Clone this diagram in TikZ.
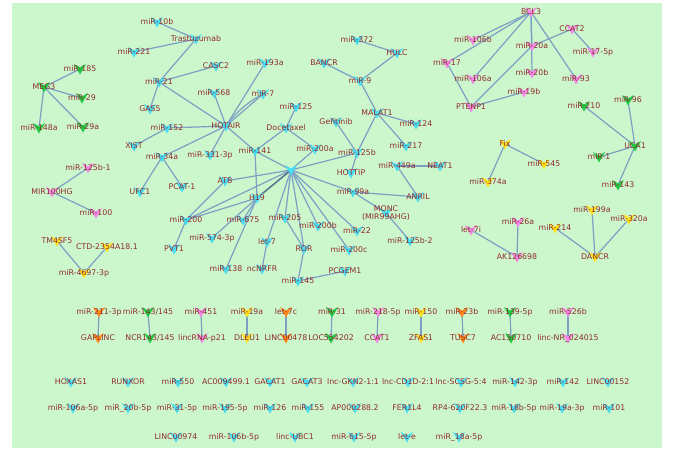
\documentclass[tikz,border=0pt]{standalone}
\usepackage{fontspec}
\setmainfont{DejaVu Sans}
\usepackage{xcolor}
\definecolor{canvas}{HTML}{CCF7CC}
\definecolor{edgeblue}{HTML}{7C9FC4}
\definecolor{labelred}{HTML}{8E2B2B}
\definecolor{mcyan}{HTML}{45DDF2}
\definecolor{mgreen}{HTML}{1FCB45}
\definecolor{mpink}{HTML}{F289E6}
\definecolor{myellow}{HTML}{FFE31A}
\definecolor{morange}{HTML}{FF8A1C}
\usepackage{tikz}
\usetikzlibrary{backgrounds}

\begin{document}
\begin{tikzpicture}[x=1pt, y=-1pt,
  gene/.style={text=labelred, font=\fontsize{7.8}{8.6}\selectfont, inner sep=0pt, align=center},
  link/.style={draw=edgeblue, line width=1.2pt}
]
  \useasboundingbox (0,0) rectangle (676,455);
  % genes: name/x/y/colour/label
  \foreach \n/\x/\y/\c/\t in {
    meg3/44/87/mgreen/MEG3, m185/80/69/mgreen/miR-185, m29/82/98/mgreen/miR-29,
    m148a/39/128/mgreen/miR-148a, m29a/83/127/mgreen/miR-29a,
    m10b/157/22/mcyan/miR-10b, m221/134/52/mcyan/miR-221, traz/196/39/mcyan/Trastuzumab,
    m21/159/82/mcyan/miR-21, casc2/216/66/mcyan/CASC2, m193a/265/63/mcyan/miR-193a,
    gas5/150/109/mcyan/GAS5, m568/214/93/mcyan/miR-568, m7/263/94/mcyan/miR-7,
    m152/167/128/mcyan/miR-152, hotair/226/126/mcyan/HOTAIR, xist/134/146/mcyan/XIST,
    m125/296/107/mcyan/miR-125, doce/286/128/mcyan/Docetaxel, m331/210/155/mcyan/miR-331-3p,
    m141/255/151/mcyan/miR-141, m200a/315/149/mcyan/miR-200a, m34a/162/157/mcyan/miR-34a,
    ufc1/140/192/mcyan/UFC1, pcat1/182/187/mcyan/PCAT-1, atb/225/181/mcyan/ATB,
    hub/291/170/mcyan/{}, h19/257/198/mcyan/H19, m200/186/220/mcyan/miR-200,
    m675/243/220/mcyan/miR-675, m205/285/218/mcyan/miR-205, m200b/318/226/mcyan/miR-200b,
    m574/212/238/mcyan/miR-574-3p, pvt1/174/249/mcyan/PVT1, let7/267/242/mcyan/let-7,
    ror/304/249/mcyan/ROR, m138/226/269/mcyan/miR-138, ncnrfr/262/269/mcyan/ncNRFR,
    m145/298/281/mcyan/miR-145, pcgem1/345/271/mcyan/PCGEM1, m22/357/231/mcyan/miR-22,
    m200c/349/250/mcyan/miR-200c, m99a/353/192/mcyan/miR-99a, anril/418/197/mcyan/ANRIL,
    monc/386/213/mcyan/{MONC\\(MIR99AHG)}, m125b2/410/241/mcyan/miR-125b-2,
    m449a/397/166/mcyan/miR-449a, neat1/440/166/mcyan/NEAT1, hottip/351/173/mcyan/HOTTIP,
    m125b/357/153/mcyan/miR-125b, gef/336/122/mcyan/Gefitinib, malat1/377/113/mcyan/MALAT1,
    m124/416/124/mcyan/miR-124, m217/406/146/mcyan/miR-217, m9/360/81/mcyan/miR-9,
    hulc/397/53/mcyan/HULC, m372/357/40/mcyan/miR-372, bancr/324/63/mcyan/BANCR,
    bcl3/531/12/mpink/BCL3, ccat2/572/29/mpink/CCAT2, m20a/532/46/mpink/miR-20a,
    m175p/593/52/mpink/miR-17-5p, m20b/532/73/mpink/miR-20b, m93/576/79/mpink/miR-93,
    m19b/524/92/mpink/miR-19b, m106b/473/40/mpink/miR-106b, m17/447/63/mpink/miR-17,
    m106a/473/79/mpink/miR-106a, ptenp1/471/107/mpink/PTENP1,
    m210/584/106/mgreen/miR-210, m96/628/100/mgreen/miR-96, uca1/635/146/mgreen/UCA1,
    m1/599/157/mgreen/miR-1, m143/618/185/mgreen/miR-143,
    fix/505/144/myellow/Fix, m545/544/164/myellow/miR-545, m374a/488/182/myellow/miR-374a,
    m199a/592/210/myellow/miR-199a, m320a/629/219/myellow/miR-320a, m214/555/228/myellow/miR-214,
    dancr/595/257/myellow/DANCR, let7i/471/230/mpink/let-7i, m26a/518/222/mpink/miR-26a,
    ak/517/257/mpink/AK126698,
    m125b1/88/168/mpink/miR-125b-1, mir100hg/52/192/mpink/MIR100HG, m100/96/213/mpink/miR-100,
    tm4sf5/57/241/myellow/TM4SF5, ctd/107/247/myellow/CTD-2354A18.1, m4697/84/273/myellow/miR-4697-3p,
    m211/99/312/morange/miR-211-3p, m143145/148/312/mgreen/{miR-143/145}, m451/201/312/mpink/miR-451,
    m19a/247/312/myellow/miR-19a, let7c/286/312/morange/let-7c, m31/332/312/mgreen/miR-31,
    m218/378/312/mpink/miR-218-5p, m150/421/312/myellow/miR-150, m23b/462/312/morange/miR-23b,
    m139/510/312/mgreen/miR-139-5p, m526b/568/312/mpink/miR-526b,
    gaplinc/98/338/morange/GAPLINC, ncr/150/338/mgreen/{NCR143/145}, lincp21/202/338/mpink/lincRNA-p21,
    dleu1/247/338/myellow/DLEU1, linc478/286/338/morange/LINC00478, loc/331/338/mgreen/LOC554202,
    ccat1/377/338/mpink/CCAT1, zfas1/421/338/myellow/ZFAS1, tusc7/463/338/morange/TUSC7,
    ac130/511/338/mgreen/AC130710, lincnr/568/338/mpink/linc-NR\_024015,
    hoxas1/71/382/mcyan/HOXAS1, runxor/128/382/mcyan/RUNXOR, m550/178/382/mcyan/miR-550,
    ac009/226/382/mcyan/AC009499.1, gacat1/270/382/mcyan/GACAT1, gacat3/307/382/mcyan/GACAT3,
    gkn2/353/382/mcyan/lnc-GKN2-1:1, cd1d/408/382/mcyan/lnc-CD1D-2:1, scsg/461/382/mcyan/lnc-SCSG-5:4,
    m1423p/515/382/mcyan/miR-142-3p, m142/563/382/mcyan/miR-142, linc152/608/382/mcyan/LINC00152,
    m106a5p/73/408/mcyan/miR-106a-5p, m20b5p/128/408/mcyan/miR\_20b-5p, m315p/177/408/mcyan/miR-31-5p,
    m1955p/225/408/mcyan/miR-195-5p, m126/270/408/mcyan/miR-126, m155/308/408/mcyan/miR-155,
    ap000/355/408/mcyan/AP000288.2, fer1l4/407/408/mcyan/FER1L4, rp4/460/408/mcyan/RP4-620F22.3,
    m18b/514/408/mcyan/miR-18b-5p, m19a3p/562/408/mcyan/miR-19a-3p, m101/609/408/mcyan/miR-101,
    linc974/176/437/mcyan/LINC00974, m106b5p/234/437/mcyan/miR-106b-5p, ubc1/295/437/mcyan/linc-UBC1,
    m615/354/437/mcyan/miR-615-5p, lete/407/437/mcyan/let-e, m18a/459/437/mcyan/miR\_18a-5p}{
    \fill[\c, shift={(\x,\y)}] (-6,-5) -- (0,-1.5) -- (6,-5) -- (0,5.5) -- cycle;
    \node[gene] (\n) at (\x,\y) {\t};
  }
  \begin{scope}[on background layer]
    \fill[canvas] (12,3) rectangle (662,448);
    \foreach \a/\b in {
      meg3/m185, meg3/m29, meg3/m148a, meg3/m29a,
      m10b/traz, m221/traz, traz/m21, m21/casc2, m21/gas5, m21/hotair,
      m152/hotair, m152/xist, hotair/m568, hotair/m193a, hotair/m7, hotair/m331,
      hotair/m141, hotair/m34a, m34a/ufc1, m34a/pcat1,
      m125/doce, doce/m200a, doce/m141, m141/hub, m141/h19, m200a/hub,
      gef/m125b, malat1/m125b, m125b/hottip, m125b/hub,
      malat1/m9, malat1/m124, malat1/m217, m9/hulc, hulc/m372, m9/bancr,
      m449a/neat1, m449a/anril, m99a/anril, m99a/monc, m99a/hub, monc/m125b2,
      hub/m22, hub/m200c, hub/m200b, hub/m205, hub/ror, hub/let7, hub/m200, hub/atb,
      atb/m200, h19/m200, h19/m675, h19/m574, h19/m138, m200/pvt1,
      m205/ror, ror/m145, m145/pcgem1, let7/ncnrfr,
      bcl3/m106b, bcl3/m17, bcl3/m106a, bcl3/m20a, bcl3/m20b, bcl3/m93,
      ccat2/m175p, ccat2/m20a, ptenp1/m17, ptenp1/m20a, ptenp1/m19b,
      uca1/m210, uca1/m96, uca1/m1, uca1/m143, fix/m545, fix/m374a,
      let7i/ak, m26a/ak, dancr/m214, dancr/m199a, dancr/m320a,
      mir100hg/m125b1, mir100hg/m100, tm4sf5/m4697, ctd/m4697,
      m211/gaplinc, m143145/ncr, m451/lincp21, m19a/dleu1, let7c/linc478,
      m31/loc, m218/ccat1, m150/zfas1, m23b/tusc7, m139/ac130, m526b/lincnr}
      \draw[link] (\a.center) -- (\b.center);
    \draw[link] (hotair.center) to[bend left=12] (m7.center);
    \draw[link, draw=edgeblue!75!black, line width=1.6pt] (hub.center) -- (h19.center);
  \end{scope}
\end{tikzpicture}
\end{document}
